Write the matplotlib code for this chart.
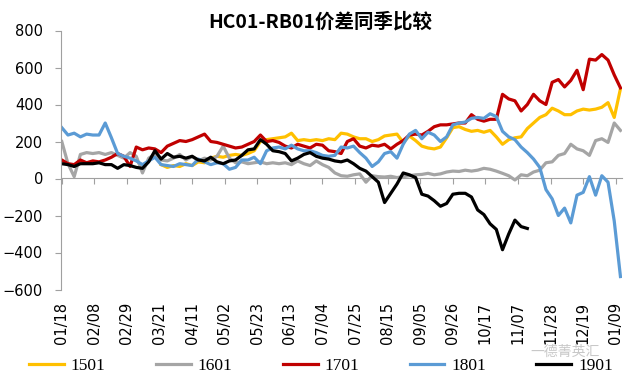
import matplotlib
matplotlib.use("Agg")
import matplotlib.pyplot as plt
import numpy as np

plt.rcParams['font.family'] = ['DejaVu Sans', 'Noto Sans CJK SC']

# day offset from 01/18, one point every 4 days
days = np.arange(0, 364, 4)

tick_days = [0, 21, 42, 63, 84, 105, 126, 147, 168, 189, 210, 231, 252, 273, 294, 315, 336, 357]
tick_labels = ['01/18', '02/08', '02/29', '03/21', '04/11', '05/02', '05/23', '06/13', '07/04',
               '07/25', '08/15', '09/05', '09/26', '10/17', '11/07', '11/28', '12/19', '01/09']

# 1501 starts later in the year (index 16)
s1501 = [75, 60, 70, 65, 80, 70, 90, 85, 110, 120, 115, 125, 130, 125, 135, 150,
         200, 210, 215, 220, 225, 245, 205, 210, 205, 210, 205, 215, 210, 245, 240, 225,
         215, 215, 200, 210, 230, 235, 240, 195, 230, 205, 175, 165, 160, 170, 220, 275,
         280, 265, 255, 260, 250, 260, 225, 185, 210, 220, 225, 270, 300, 330, 345, 380,
         365, 345, 345, 365, 375, 370, 375, 385, 410, 330, 485]
s1601 = [200, 80, 10, 130, 140, 135, 140, 130, 140, 125, 110, 140, 120, 30, 110, 130,
         100, 95, 110, 130, 100, 120, 95, 110, 100, 120, 175, 110, 85, 90, 80, 85,
         90, 80, 85, 80, 85, 75, 95, 80, 70, 95, 75, 60, 30, 15, 12, 20,
         25, -20, 15, 10, 8, 12, 5, 10, 15, 20, 22, 28, 20, 25, 35, 40,
         38, 45, 40, 45, 55, 50, 40, 28, 15, -8, 20, 15, 35, 45, 85, 90,
         125, 135, 185, 160, 150, 125, 205, 215, 195, 300, 260]
s1701 = [100, 80, 75, 100, 85, 95, 90, 100, 115, 135, 120, 65, 170, 155, 165, 160,
         140, 175, 190, 205, 200, 210, 225, 240, 200, 195, 185, 175, 165, 170, 185, 200,
         235, 200, 205, 195, 175, 165, 185, 175, 165, 185, 180, 150, 145, 135, 200, 215,
         175, 165, 180, 175, 185, 160, 185, 205, 235, 240, 235, 255, 280, 290, 290, 295,
         300, 300, 345, 320, 310, 320, 320, 455, 430, 420, 365, 400, 455, 420, 400, 520,
         535, 495, 530, 585, 480, 645, 640, 670, 640, 560, 490]
s1801 = [275, 235, 245, 225, 240, 235, 235, 300, 220, 135, 120, 110, 95, 75, 95, 115,
         75, 70, 65, 80, 75, 70, 105, 90, 75, 85, 80, 50, 60, 100, 100, 115,
         80, 150, 165, 170, 160, 180, 160, 150, 150, 140, 125, 120, 125, 170, 165, 175,
         140, 110, 65, 90, 135, 145, 110, 185, 240, 260, 215, 250, 235, 200, 225, 290,
         300, 305, 325, 330, 325, 350, 335, 255, 225, 210, 170, 140, 105, 60, -60, -110,
         -200, -160, -240, -90, -75, 10, -90, 15, -20, -230, -530]
# 1901 stops in mid November
s1901 = [80, 75, 65, 80, 80, 80, 85, 75, 75, 55, 75, 70, 60, 55, 90, 150,
         105, 135, 115, 120, 110, 120, 100, 95, 115, 90, 80, 95, 100, 125, 155, 160,
         210, 185, 150, 145, 135, 95, 110, 130, 140, 120, 110, 105, 95, 90, 100, 80,
         55, 40, 10, -20, -130, -80, -30, 30, 20, 5, -85, -95, -120, -150, -135, -85,
         -80, -80, -100, -170, -195, -245, -275, -385, -300, -225, -260, -270]

series = [('1501', days[16:], s1501, '#FFC000'),
          ('1601', days, s1601, '#A5A5A5'),
          ('1701', days, s1701, '#C00000'),
          ('1801', days, s1801, '#5B9BD5'),
          ('1901', days[:len(s1901)], s1901, '#000000')]

fig = plt.figure(figsize=(6.31, 3.83), dpi=100)
ax = fig.add_axes([61 / 631, 93.5 / 383, 561 / 631, 259 / 383])

for name, x, y, c in series:
    ax.plot(x, y, color=c, lw=2.3, label=name)

ax.set_xlim(-0.5, 361)
ax.set_ylim(-600, 800)
ax.set_yticks(range(-600, 801, 200))
ax.tick_params(axis='y', length=4, color='#A0A0A0', labelsize=10.5, pad=9)
ax.set_xticks(tick_days)
ax.set_xticklabels(tick_labels, rotation=90, fontsize=10.5)
ax.tick_params(axis='x', length=0, pad=9)

for s in ['top', 'right', 'bottom']:
    ax.spines[s].set_visible(False)
ax.spines['left'].set_color('#A0A0A0')

# zero line with its own tick marks
zero = ax.secondary_xaxis(600 / 1400)
zero.set_xticks(tick_days)
zero.set_xticklabels([])
zero.tick_params(length=4, color='#A0A0A0', direction='out')
zero.spines['bottom'].set_color('#A0A0A0')

fig.text(320 / 631, 1 - 22 / 383, 'HC01-RB01价差同季比较', ha='center', va='center',
         fontsize=14, fontweight='bold', family=['Noto Sans CJK SC', 'DejaVu Sans'])

fig.legend(loc='center', bbox_to_anchor=(321 / 631, 1 - 366 / 383), ncol=5, frameon=False,
           prop={'family': 'Liberation Serif', 'size': 12.5}, handlelength=2.0,
           handletextpad=0.4, columnspacing=2.9)

fig.text(600 / 631, 1 - 352 / 383, '一德菁英汇', ha='right', va='center', fontsize=10,
         color='#C8C8C8', family=['Noto Sans CJK SC'])

fig.savefig('out.png', dpi=100)
